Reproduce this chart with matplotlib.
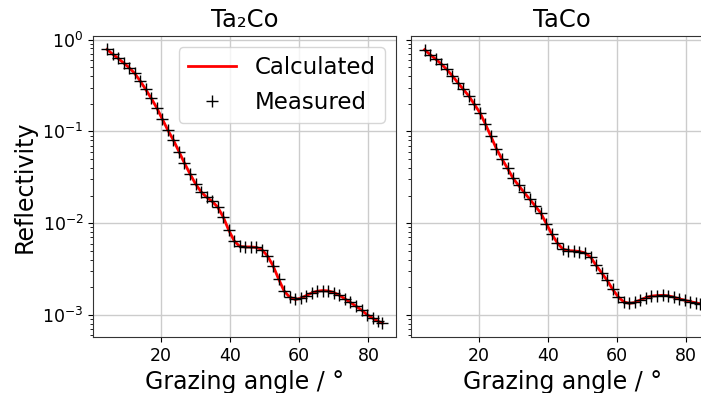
import matplotlib.pyplot as plt

# angulos de incidencia (grados)
angulos = [4.4, 6.0, 7.6, 9.2, 10.8, 12.4, 14.0, 15.6, 17.2, 18.8,
           20.4, 22.0, 23.6, 25.2, 26.8, 28.4, 30.0, 31.6, 33.2, 34.8,
           36.4, 38.0, 39.6, 41.2, 42.8, 44.4, 46.0, 47.6, 49.2, 50.8,
           52.4, 54.0, 55.6, 57.2, 58.8, 60.4, 62.0, 63.6, 65.2, 66.8,
           68.4, 70.0, 71.6, 73.2, 74.8, 76.4, 78.0, 79.6, 81.2, 82.8, 84.0]

# Ta2Co
refl_ta2co = [0.78, 0.695, 0.625, 0.556, 0.494, 0.428, 0.354, 0.286, 0.229, 0.180,
              0.136, 0.103, 0.0804, 0.0603, 0.0451, 0.0345, 0.0268, 0.0220, 0.0192, 0.0173,
              0.0150, 0.01170, 0.00840, 0.00640, 0.00558, 0.00552, 0.00552, 0.00545, 0.00515, 0.00440,
              0.00345, 0.00248, 0.00183, 0.00157, 0.00148, 0.00152, 0.00163, 0.00174, 0.00182, 0.00185,
              0.00183, 0.00176, 0.00164, 0.00150, 0.00137, 0.00125, 0.00113, 0.00101, 0.000925, 0.000855,
              0.000817]

# TaCo
refl_taco = [0.775, 0.685, 0.613, 0.543, 0.473, 0.405, 0.340, 0.287, 0.243, 0.197,
             0.160, 0.120, 0.0880, 0.0645, 0.0500, 0.0395, 0.0308, 0.0258, 0.0216, 0.0183,
             0.0154, 0.0129, 0.0099, 0.00760, 0.00610, 0.00522, 0.00503, 0.00500, 0.00492, 0.00474,
             0.00428, 0.00348, 0.00288, 0.00239, 0.00190, 0.00158, 0.00139, 0.00134, 0.00137, 0.00146,
             0.00155, 0.00161, 0.00163, 0.00164, 0.00162, 0.00157, 0.00150, 0.00145, 0.00140, 0.00136,
             0.00133]

titulos = ['Ta₂Co', 'TaCo']
series = [refl_ta2co, refl_taco]

fig = plt.figure(figsize=(7.01, 3.93), dpi=100)
ax1 = fig.add_axes([0.133, 0.143, 0.432, 0.766])
ax2 = fig.add_axes([0.586, 0.143, 0.432, 0.766], sharey=ax1, sharex=ax1)

for ax, titulo, refl in zip([ax1, ax2], titulos, series):
    ax.plot(angulos, refl, color='red', lw=2, label='Calculated', zorder=2)
    ax.plot(angulos, refl, ls='none', marker='+', ms=8.5, mew=1, color='black',
            label='Measured', zorder=3)
    ax.set_yscale('log')
    ax.set_title(titulo, fontsize=17.5)
    ax.set_xlabel('Grazing angle / °', fontsize=17)
    ax.grid(True, color='#cccccc', lw=1)
    ax.tick_params(labelsize=12.5)
    for s in ax.spines.values():
        s.set_color('#333333')

ax1.set_ylabel('Reflectivity', fontsize=17)
ax2.tick_params(labelleft=False)
ax1.legend(loc='upper right', fontsize=16.5, handlelength=2.1)

plt.savefig('out.png', dpi=100)
plt.close()
